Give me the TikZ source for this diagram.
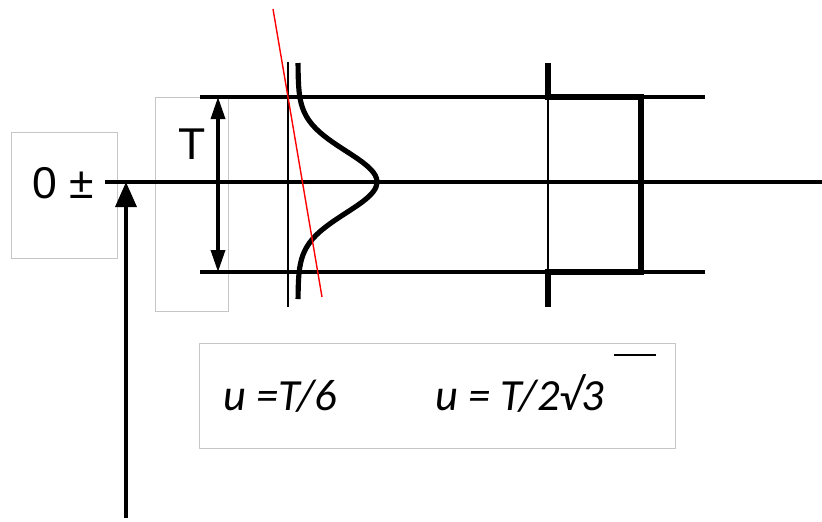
\documentclass[tikz,border=0pt]{standalone}
\usepackage{fontspec}
\setmainfont{Liberation Sans}
\newfontfamily\formfont{Carlito}
\usetikzlibrary{arrows.meta,positioning,calc}

\begin{document}
\begin{tikzpicture}[x=0.03cm, y=-0.03cm,
    graybox/.style={draw=gray!45, line width=0.7pt},
    axisline/.style={line width=2.9pt},
    thinline/.style={line width=2.1pt},
    thickline/.style={line width=4.4pt},
    label/.style={font=\fontsize{38}{40}\selectfont, inner sep=0pt},
    formula/.style={font=\formfont\itshape\fontsize{38}{40}\selectfont, inner sep=0pt, anchor=base west}]
    \useasboundingbox (0,0) rectangle (822,521);

    % Gray frames
    \draw[graybox] (11,132) rectangle (117,258);
    \draw[graybox] (155,97) rectangle (228,311);
    \draw[graybox] (199,343) rectangle (675,448);

    % Labels
    \node[label] (zero) at (63,183) {0 ±};
    \node[label] (tlabel) at (192,144) {T};

    % Tolerance lines
    \coordinate (topL) at (200,97);
    \coordinate (topR) at (705,97);
    \coordinate (botL) at (200,272);
    \coordinate (botR) at (705,272);
    \coordinate (midL) at (105,182);
    \coordinate (midR) at (822,182);
    \draw[axisline] (topL) -- (topR);
    \draw[axisline] (botL) -- (botR);
    \draw[axisline] (midL) -- (midR);

    % T dimension arrow
    \coordinate (Ttop) at (218,97);
    \coordinate (Tbot) at (218,272);
    \draw[axisline, {Triangle[length=0.66cm,width=0.42cm]}-{Triangle[length=0.66cm,width=0.42cm]}] (Ttop) -- (Tbot);

    % Pointer to the nominal value
    \coordinate (foot) at (126,518);
    \coordinate (tip) at (126,182);
    \draw[axisline, -{Triangle[length=0.75cm,width=0.63cm]}] (foot) -- (tip);

    % Normal distribution
    \draw[thinline] (288,62) -- (288,307);
    \draw[thickline, smooth, samples=60, domain=63:299]
        plot ({298+79*exp(-((\x-182)/31)^2/2)}, \x);
    \draw[red, line width=1.2pt] (273,9) -- (322,297);

    % Rectangular distribution
    \draw[thinline] (548,97) -- (548,272);
    \draw[thickline] (548,63) -- (548,97) -- (641,97) -- (641,272) -- (548,272) -- (548,307);

    % Formulas
    \node[formula] (unorm) at (223,410) {u =T/6};
    \node[formula] (urect) at (435,410) {u = T/2\symbol{"221A}3};
    \coordinate (barL) at (614,355);
    \coordinate (barR) at (656,355);
    \draw[thinline] (barL) -- (barR);
\end{tikzpicture}
\end{document}
